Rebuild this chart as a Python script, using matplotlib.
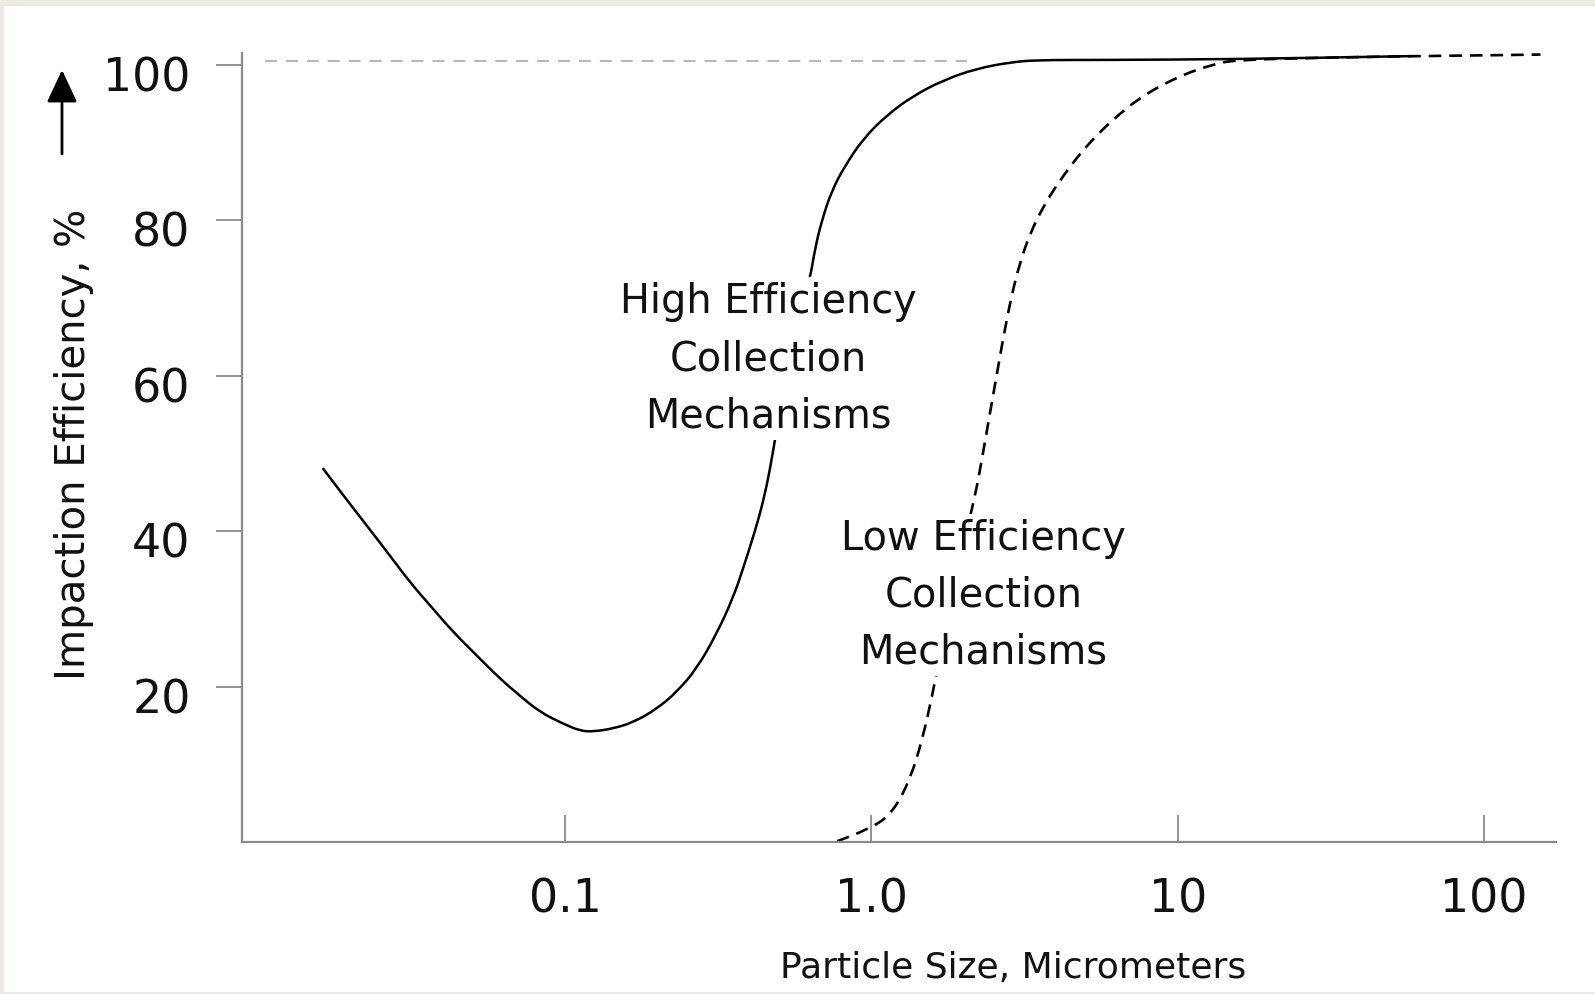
import numpy as np
import matplotlib
matplotlib.use('Agg')
import matplotlib.pyplot as plt
from matplotlib.patches import Rectangle, FancyArrowPatch, PathPatch
from matplotlib.path import Path
from matplotlib.transforms import ScaledTranslation

# Courbe pleine : mécanismes de collecte à haute efficacité
x_high = [0.01618, 0.01888, 0.02254, 0.02651, 0.03119, 0.0367, 0.04317, 0.05148, 0.06138,
          0.07131, 0.08285, 0.0988, 0.112, 0.1237, 0.1438, 0.1672, 0.1991, 0.2316, 0.2692,
          0.3129, 0.3545, 0.3823, 0.4172, 0.4437, 0.4667, 0.4853, 0.535, 0.585, 0.631, 0.6548,
          0.6885, 0.7428, 0.8209, 0.9419, 1.123, 1.371, 1.718, 2.208, 2.84,
          3.47, 5.58, 15.2, 58.0]
y_high = [48.1, 44.6, 40.7, 37.1, 33.4, 30.2, 27.0, 24.0, 21.0,
          18.8, 16.7, 15.2, 14.3, 14.2, 14.6, 15.4, 17.1, 19.3, 22.3,
          26.8, 31.5, 35.3, 40.0, 43.8, 47.9, 51.9, 61.5, 68.0, 72.5, 76.3,
          79.9, 83.8, 87.0, 90.5, 93.5, 96.0, 98.0, 99.5, 100.3,
          100.6, 100.6, 100.7, 101.1]

# Courbe pointillée : mécanismes de collecte à faible efficacité
x_low = [0.773, 1.0, 1.18, 1.34, 1.47, 1.58, 1.70, 1.85, 2.0, 2.18, 2.32, 2.44, 2.57,
         2.70, 2.87, 3.06, 3.30, 3.65, 4.03, 4.46, 4.80, 5.18, 5.80, 6.49, 7.35, 8.44,
         9.68, 11.25, 13.08, 15.2, 30.0, 60.0, 100.0, 153.0]
y_low = [0.1, 1.7, 3.9, 8.1, 13.3, 18.8, 25.2, 32.0, 38.5, 44.4, 50.2, 55.2, 60.2,
         65.0, 70.3, 74.6, 78.3, 81.8, 84.5, 86.9, 88.5, 90.0, 92.0, 93.7, 95.4, 96.9,
         98.1, 99.2, 100.0, 100.6, 100.9, 101.1, 101.2, 101.3]

# Ligne de référence grise à 100 %
x_ref = [0.0105, 2.05]
y_ref = [100.5, 100.5]

x_ticks = [0.1, 1.0, 10, 100]
x_tick_labels = ['0.1', '1.0', '10', '100']
y_ticks = [20, 40, 60, 80, 100]
y_tick_labels = ['20', '40', '60', '80', '100']

gray = '#8a8a8a'


def smooth_path(xs, ys):
    # chemin lissé : les points lus servent de points de contrôle (courbes quadratiques),
    # les milieux (en log pour x) servent de points de passage
    verts = [(xs[0], ys[0])]
    codes = [Path.MOVETO]
    for i in range(1, len(xs) - 1):
        xm = np.sqrt(xs[i] * xs[i + 1])
        ym = (ys[i] + ys[i + 1]) / 2
        verts += [(xs[i], ys[i]), (xm, ym)]
        codes += [Path.CURVE3, Path.CURVE3]
    verts.append((xs[-1], ys[-1]))
    codes.append(Path.LINETO)
    return Path(verts, codes)


fig = plt.figure(figsize=(15.95, 9.95), dpi=100)
fig.patch.set_facecolor('#edeadf')
fig.patches.append(Rectangle((4 / 1595, 2 / 995), 1, 1 - 9 / 995,
                             transform=fig.transFigure, facecolor='white',
                             edgecolor='none', zorder=-10))

ax = fig.add_axes([242 / 1595, 152 / 995, 1314 / 1595, 789 / 995])
ax.set_facecolor('none')
ax.set_xscale('log')
ax.set_xlim(0.00882, 171.9)
ax.set_ylim(0, 101.5)

# Courbes
ax.plot(x_ref, y_ref, color='#a0a0a0', lw=1.1, linestyle=(0, (7.8, 5.9)))
ax.add_patch(PathPatch(smooth_path(x_high, y_high), facecolor='none', edgecolor='black',
                       lw=1.8, capstyle='butt', joinstyle='round', zorder=2))
ax.add_patch(PathPatch(smooth_path(x_low, y_low), facecolor='none', edgecolor='black',
                       lw=1.9, linestyle=(0, (4.8, 3.0)), zorder=2))

# Axes
for s in ['top', 'right']:
    ax.spines[s].set_visible(False)
for s in ['left', 'bottom']:
    ax.spines[s].set_color(gray)
    ax.spines[s].set_linewidth(1.6)

ax.set_xticks(x_ticks)
ax.set_xticklabels(x_tick_labels)
ax.xaxis.set_minor_locator(matplotlib.ticker.NullLocator())
ax.set_yticks(y_ticks)
ax.set_yticklabels(y_tick_labels)
ax.tick_params(axis='x', direction='in', length=19.5, width=1.3, color=gray,
               pad=25, labelsize=33, labelcolor='#111111')
ax.tick_params(axis='y', direction='out', length=19, width=1.3, color=gray,
               pad=18, labelsize=33, labelcolor='#111111')
offset = ScaledTranslation(0, -0.08, fig.dpi_scale_trans)
for lab in ax.get_yticklabels():
    lab.set_transform(lab.get_transform() + offset)

ax.set_xlabel('Particle Size, Micrometers', fontsize=26, color='#111111')
ax.xaxis.label.set_va('center')
ax.xaxis.set_label_coords(0.5868, -0.1584)
ax.set_ylabel('Impaction Efficiency, %', fontsize=29, color='#111111')
ax.yaxis.label.set_va('center')
ax.yaxis.set_label_coords(-0.1279, 0.5057)

# Annotations avec fond blanc qui coupe les courbes
box = dict(boxstyle='square,pad=0.1', facecolor='white', edgecolor='none')
ax.text(0.460, 62.2, 'High Efficiency\nCollection\nMechanisms', fontsize=28.6,
        ha='center', va='center', multialignment='center', linespacing=1.55,
        color='#111111', bbox=box, zorder=5)
ax.text(2.32, 31.8, 'Low Efficiency\nCollection\nMechanisms', fontsize=28.8,
        ha='center', va='center', multialignment='center', linespacing=1.55,
        color='#111111', bbox=box, zorder=5)

# Flèche vers le haut à côté de l'axe y
arrow = FancyArrowPatch((62 / 1595, 1 - 155 / 995), (62 / 1595, 1 - 71 / 995),
                        transform=fig.transFigure, arrowstyle='-|>,head_length=20,head_width=9.4',
                        mutation_scale=1, color='black', lw=2.0, shrinkA=0, shrinkB=0)
fig.patches.append(arrow)

fig.savefig('out.png', dpi=100, facecolor=fig.get_facecolor())
